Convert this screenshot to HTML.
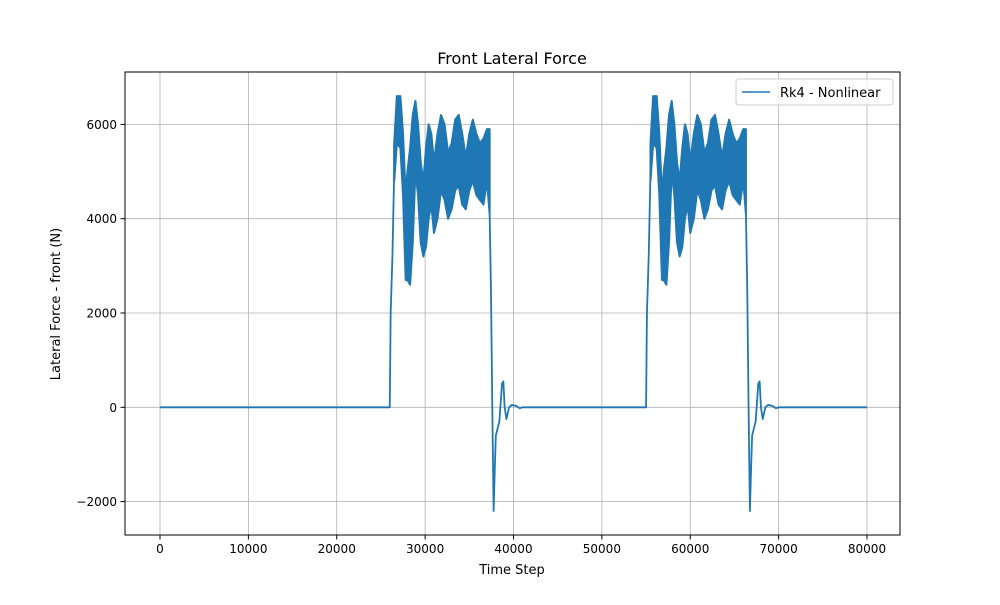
<!DOCTYPE html>
<html><head><meta charset="utf-8"><style>
body{margin:0;background:#fff;}
svg text{font-family:"DejaVu Sans","Liberation Sans",sans-serif;fill:#000;}
</style></head><body>
<svg id="chart" width="1000" height="600" xmlns="http://www.w3.org/2000/svg">
<rect width="1000" height="600" fill="#fff"/>
<g id="grid"></g>
<g id="series"></g>
<rect x="125" y="72" width="775" height="463" fill="none" stroke="#000" stroke-width="1"/>
<g id="ticks"></g>
<text x="512" y="64" font-size="16" text-anchor="middle">Front Lateral Force</text>
<text x="512" y="574" font-size="13" text-anchor="middle">Time Step</text>
<text x="60" y="304" font-size="13" text-anchor="middle" transform="rotate(-90 60 304)">Lateral Force - front (N)</text>
<g>
<rect x="736" y="79" width="157" height="26" rx="3" fill="#fff" fill-opacity="0.8" stroke="#ccc"/>
<line x1="742" y1="92" x2="770" y2="92" stroke="#1f77b4" stroke-width="1.6"/>
<text x="780" y="97" font-size="13">Rk4 - Nonlinear</text>
</g>
</svg>
<script>
const xTicks=[0,10000,20000,30000,40000,50000,60000,70000,80000];
const yTicks=[-2000,0,2000,4000,6000];
const burstOffsets=[0,29000];
const riseT=[25900,26000,26100,26300,26500];
const riseV=[0,0,2000,3200,5000];
const bandT=[26500,26800,27200,27500,27800,28000,28300,28600,28900,29200,29500,29800,30100,30400,30700,31000,31400,31800,32200,32600,33000,33400,33800,34200,34600,35000,35400,35800,36200,36600,37000,37300];
const bandHi=[5600,6600,6600,5800,4500,5000,5500,6200,6500,6000,5200,4800,5500,6000,5800,5200,5800,6200,6000,5400,5600,6100,6200,5800,5300,5800,6100,5800,5600,5700,5900,5900];
const bandLo=[4800,5600,5500,4500,2700,2700,2600,3500,5000,4500,3500,3200,3400,4000,4300,3700,4000,4600,4400,4000,4200,4600,4700,4300,4200,4600,4800,4500,4400,4300,4800,4100];
const fallT=[37300,37450,37600,37750,37900,38000,38400,38700,38850,39000,39200,39500,39800,40300,40700,41000];
const fallV=[4100,2500,0,-2200,-1200,-600,-300,500,550,0,-250,0,50,30,-20,0];
const startT=0, endT=80000;
const X=t=>160+(t/40000)*353.5;
const Y=v=>407.3-(v/2000)*94.3;
const NS="http://www.w3.org/2000/svg";
const grid=document.getElementById('grid'),ticks=document.getElementById('ticks'),ser=document.getElementById('series');
function mk(tag,a,p){const e=document.createElementNS(NS,tag);for(const k in a)e.setAttribute(k,a[k]);p.appendChild(e);return e;}
xTicks.forEach(t=>{
 const g=mk('line',{x1:X(t),x2:X(t),y1:72,y2:535,stroke:'#b0b0b0','stroke-width':0.8},grid);
 
 
 mk('line',{x1:X(t),x2:X(t),y1:535,y2:539.5,stroke:'#000'},ticks);
 const tx=mk('text',{x:X(t),y:553,'font-size':12,'text-anchor':'middle'},ticks);tx.textContent=t;
 
 
});
yTicks.forEach(v=>{
 const g=mk('line',{x1:125,x2:900,y1:Y(v),y2:Y(v),stroke:'#b0b0b0','stroke-width':0.8},grid);
 
 
 mk('line',{x1:120.5,x2:125,y1:Y(v),y2:Y(v),stroke:'#000'},ticks);
 const tx=mk('text',{x:117,y:Y(v)+4.5,'font-size':12,'text-anchor':'end'},ticks);tx.textContent=(v<0?'\u2212'+(-v):v);
 
 
});
const C='#1f77b4';
let pts=[[X(startT),Y(0)]];
burstOffsets.forEach((o,i)=>{
 riseT.forEach((t,j)=>pts.push([X(t+o),Y(riseV[j])]));
 const up=bandT.map((t,j)=>X(t+o)+','+Y(bandHi[j]));
 const lo=bandT.map((t,j)=>X(t+o)+','+Y(bandLo[j])).reverse();
 const band=mk('polygon',{points:up.concat(lo).join(' '),fill:C,stroke:C,'stroke-width':2,'stroke-linejoin':'round'},ser);
 
 
 const l1=mk('polyline',{points:[X(riseT[riseT.length-1]+o)+','+Y(riseV[riseV.length-1]),up[0]].join(' '),fill:'none',stroke:C,'stroke-width':1.8},ser);
 
 
 const seg=mk('polyline',{points:pts.map(p=>p.join(',')).join(' '),fill:'none',stroke:C,'stroke-width':1.8,'stroke-linejoin':'round'},ser);
 
 
 pts=[];
 fallT.forEach((t,j)=>pts.push([X(t+o),Y(fallV[j])]));
});
pts.push([X(endT),Y(0)]);
const last=mk('polyline',{points:pts.map(p=>p.join(',')).join(' '),fill:'none',stroke:C,'stroke-width':1.8,'stroke-linejoin':'round'},ser);


// middle settle segment between bursts handled: connect fall of burst1 to rise of burst2
</script>
</body></html>
